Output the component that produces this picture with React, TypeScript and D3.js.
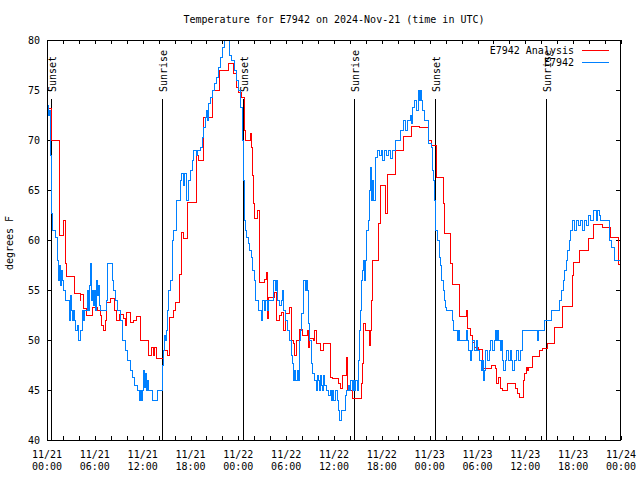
import React from "react";
import * as d3 from "d3";

// hours since 2024-11-21 00:00 UTC, temperature in °F
const obsSeries: [number, number][] = [[0,73.5],[0.13,72.5],[0.25,73],[0.38,68.5],[0.44,64],[0.5,62.7],[0.63,61],[1.0,60.3],[1.25,58],[1.38,56],[1.5,57.5],[1.63,55.5],[1.75,57],[1.88,56],[2.0,55],[2.26,54],[2.63,54],[2.76,52],[2.89,54.5],[3.0,53],[3.14,52],[3.26,53],[3.39,52],[3.51,51],[3.76,51.5],[3.89,50],[4.14,51],[4.39,53],[4.52,52],[4.64,53],[4.89,53],[5.02,55],[5.14,53],[5.27,55.5],[5.4,57.7],[5.52,54],[5.65,55],[5.77,53.5],[5.9,55],[6.02,53],[6.15,56],[6.27,54.5],[6.4,55.5],[6.52,53.5],[6.65,53],[7.4,54],[7.53,57.7],[8.16,56],[8.28,55],[8.53,54],[8.78,53],[9.16,52],[9.41,50],[9.79,49],[10.04,48],[10.41,47],[10.66,46.3],[10.92,45.5],[11.29,45],[11.54,44],[11.67,45],[11.8,44],[11.92,45],[12.05,47],[12.17,45.3],[12.3,46.7],[12.42,45],[12.55,46],[12.67,45],[13.05,45],[13.17,44],[13.8,45],[14.43,47.5],[14.55,49],[14.68,50.5],[14.8,50],[14.93,51],[15.06,53],[15.18,55],[15.43,56],[15.68,60],[15.8,61],[16.2,64],[16.7,66],[16.8,66.7],[17.06,65.5],[17.2,66.7],[17.44,64],[17.7,66],[17.94,67],[18.2,68],[18.3,69],[18.7,68.5],[18.8,69],[19.2,69.3],[19.45,70.3],[19.57,71.3],[19.8,72.3],[19.95,73],[20.07,72],[20.2,73.7],[20.45,74.3],[20.7,75],[20.95,75.7],[21.2,76.3],[21.45,77.3],[21.7,78.3],[21.96,79.3],[22.2,81],[22.7,80],[22.84,78.5],[23.09,78],[23.46,77],[23.7,76],[23.96,75],[24.2,73.3],[24.47,70],[24.6,66],[24.72,62],[24.84,61],[24.97,60.3],[25.2,59.7],[25.35,59],[25.6,58.3],[25.72,57],[25.97,56],[26.1,54],[26.35,54],[26.47,53],[26.72,53],[26.85,52],[26.98,54],[27.2,53],[27.35,54],[27.6,53],[27.72,54],[28.23,54],[28.35,56],[28.6,55],[28.73,56],[28.86,54],[29.1,53.5],[29.36,54],[29.49,55],[29.6,53],[29.86,52],[30.1,51],[30.36,50],[30.6,48.5],[30.74,47.7],[30.87,46],[31.0,47],[31.1,46],[31.37,47],[31.5,46],[31.6,50],[31.74,51],[31.87,52.7],[32.12,56],[32.37,55],[32.5,56],[32.62,55],[32.75,51.7],[32.87,50],[33.12,47.7],[33.25,46.7],[33.5,46],[33.75,45],[33.88,46.5],[34.0,46],[34.13,45],[34.25,46.5],[34.38,45.5],[34.5,45],[34.63,46.5],[34.75,45.5],[35.0,45],[35.26,44.5],[35.5,45],[35.63,44],[35.76,45],[35.88,44],[36.13,45],[36.39,44],[36.5,43],[36.64,42],[36.9,43],[37.4,44.5],[37.52,45],[37.77,45.5],[37.9,45],[38.0,46],[38.27,45],[38.4,46],[38.52,45],[38.65,46],[38.9,45],[39.02,48],[39.15,51],[39.27,53],[39.4,56],[39.52,57],[39.65,58],[39.78,56],[39.9,58],[40.03,61],[40.28,62],[40.4,65],[40.53,67.3],[40.65,64],[40.78,66],[40.9,64],[41.15,68.3],[41.4,69],[41.66,68.5],[41.9,69],[42.03,68],[42.28,69],[42.53,68.5],[42.78,69],[43.04,68.2],[43.29,69],[43.66,70],[44.29,71],[44.67,72],[44.92,71],[45.17,72],[45.55,72.5],[45.67,71.7],[45.8,73.3],[46.05,74],[46.3,73],[46.55,75],[46.68,74],[46.8,75],[46.93,74],[47.05,73],[47.3,72],[47.8,69.7],[48.18,69.3],[48.3,67],[48.43,66],[48.56,64],[48.68,61],[48.93,60],[49.18,58.3],[49.31,57.5],[49.44,56],[49.69,55],[49.81,54],[49.94,53.3],[50.06,53],[50.82,52],[50.94,51],[51.44,50],[51.57,51],[51.69,50],[52.45,50],[52.57,51],[52.7,50],[52.82,49],[53.07,48],[53.2,49],[53.32,50],[53.58,49],[53.83,50],[53.95,49],[54.2,48],[54.45,47],[54.58,48],[54.7,46],[54.83,47],[54.96,49],[55.2,48],[55.46,49],[55.58,50],[55.83,49],[56.09,50],[56.2,51],[56.34,50],[56.46,51],[56.59,50],[56.84,49],[56.96,50],[57.09,48],[57.21,47],[57.46,48],[57.59,49],[57.84,48],[58.09,49],[58.22,48],[58.34,47],[58.6,48],[58.85,49],[59.1,48],[59.35,49],[59.6,51],[61.48,50],[61.6,51],[62.36,52],[63.24,53],[64.24,54],[64.49,55],[64.74,56],[64.87,57],[65.12,58],[65.24,59],[65.5,60],[65.62,61],[65.87,62],[66.12,61],[66.37,62],[66.62,61.5],[66.88,62],[67.13,61],[67.38,62],[67.63,61.5],[67.88,62.5],[68.13,62],[68.5,63],[68.88,62],[69.0,63],[69.26,62.5],[69.38,62],[70.5,60],[70.76,59.3],[71.14,58],[72,58]];

const analysisSeries: [number, number][] = [[0,73.2],[0.5,70],[1.5,60.5],[2.0,62],[2.26,57.7],[2.4,56.4],[3.4,54.7],[4.1,54],[4.2,54.6],[4.55,53.2],[4.9,52.5],[5.6,53.3],[6.3,53],[6.6,52.5],[6.8,51.5],[7.0,51],[7.3,52],[7.45,53.8],[7.95,54.2],[8.35,53],[8.7,52],[9.0,52.6],[9.5,52.2],[9.75,51.5],[9.95,52.8],[10.45,51.8],[10.8,52],[11.2,52.4],[11.65,50],[12.7,48.5],[13.0,49.3],[13.25,48.5],[13.4,49.3],[13.7,48.2],[14.5,49],[15.0,48.5],[15.35,52.3],[15.85,53],[16.1,53.8],[16.55,56.6],[16.8,60.8],[17.1,60.2],[17.6,63.8],[18.65,68.5],[19.0,68],[19.55,72.3],[20.75,75],[21.6,77],[22.75,77.7],[23.35,76.7],[23.75,75.3],[24.0,74.8],[24.3,74.3],[24.7,71],[24.8,70],[25.45,70.7],[25.55,69.3],[25.7,66.5],[25.85,63.7],[26.0,62.2],[26.35,63],[26.65,55.8],[27.2,56.1],[27.45,56.8],[27.6,54.3],[27.65,52.2],[27.75,54.3],[28.5,54.8],[28.7,52],[29.1,52.5],[29.3,52.8],[29.55,51],[29.85,52.7],[30.35,53.3],[30.55,50],[30.8,49.7],[30.95,48.5],[31.25,50],[31.55,51.1],[31.95,50.5],[32.6,51],[32.75,49.3],[32.9,50.2],[33.4,50],[33.5,51],[33.7,49.7],[34.0,49.7],[34.3,49],[34.6,49.7],[35.55,46.3],[35.75,46.2],[36.55,45.7],[36.8,45.2],[37.0,46.5],[37.45,48.3],[37.6,45],[38.3,44.2],[39.35,45.7],[39.5,47.7],[39.65,51.7],[39.85,51],[40.4,49.5],[40.5,51],[40.6,54],[40.75,58],[41.5,61.7],[41.8,65.5],[42.4,62.7],[42.7,66.6],[43.6,69],[44.6,70.4],[45.6,71.4],[46.6,71.3],[47.8,70],[48.2,69.5],[48.75,66.3],[49.7,63.7],[49.8,60.7],[50.6,57.7],[50.75,55.6],[51.65,52.4],[52.55,53],[52.65,51.2],[53.0,50.5],[53.25,49.8],[53.5,49.3],[54.0,49.1],[54.6,47.2],[55.7,47.5],[56.2,47.2],[56.35,45.7],[56.55,46.3],[56.8,45.2],[57.1,45],[57.7,45.7],[58.65,45.2],[58.95,44.7],[59.15,44.3],[59.65,46],[59.85,46.7],[60.05,47.3],[60.2,47],[60.35,47.3],[60.8,48.4],[61.7,49],[62.1,49.2],[62.7,49.7],[63.65,51.3],[64.65,53.4],[65.85,56.5],[66.0,57.8],[66.7,59],[67.85,60.2],[68.55,61.6],[69.6,61.3],[70.6,60.3],[71.6,57.6],[72,57.6]];

const sunLabels = ["Sunset", "Sunrise", "Sunset", "Sunrise", "Sunset", "Sunrise"];
const sunHours = [0.5, 14.47, 24.62, 38.52, 48.72, 62.65];

const yTicks = [40, 45, 50, 55, 60, 65, 70, 75, 80];
const seriesNames = ["E7942 Analysis", "E7942"];
const seriesColors = ["#ff0000", "#0080ff"];

const title = "Temperature for E7942 on 2024-Nov-21 (time in UTC)";
const yTitle = "degrees F";

const START = Date.UTC(2024, 10, 21);
const toDate = (h: number) => new Date(START + h * 3600e3);

export default function App() {
  const W = 640, H = 480;
  const left = 47, right = 621, top = 40, bottom = 440;
  const x = d3.scaleUtc().domain([toDate(0), toDate(72)]).range([left, right]);
  const y = d3.scaleLinear().domain([40, 80]).range([bottom, top]);
  const font = "'DejaVu Sans Mono', 'Liberation Mono', monospace";

  const line = d3
    .line<[number, number]>()
    .x((d) => Math.round(x(toDate(d[0]))) + 0.5)
    .y((d) => Math.round(y(d[1])) + 0.5)
    .curve(d3.curveStepAfter);

  const minorTicks = d3.utcHour.every(2)!.range(toDate(0), toDate(72.01));
  const majorTicks = d3.utcHour.every(6)!.range(toDate(0), toDate(72.01));
  const fmtDate = d3.utcFormat("%m/%d");
  const fmtTime = d3.utcFormat("%H:%M");

  return (
    <svg
      width={W}
      height={H}
      style={{ position: "absolute", left: 0, top: 0, background: "#fff" }}
      fontFamily={font}
      fontSize={10}
    >
      <defs>
        <clipPath id="plotclip">
          <rect x={left} y={top} width={right - left} height={bottom - top} />
        </clipPath>
      </defs>
      <rect x={0} y={0} width={W} height={H} fill="#fff" />
      <text x={(left + right) / 2} y={23} textAnchor="middle" fill="#000">
        {title}
      </text>

      {minorTicks.map((t, i) => (
        <g key={"xt" + i} stroke="#000" strokeWidth={1} shapeRendering="crispEdges">
          <line x1={Math.round(x(t)) + 0.5} x2={Math.round(x(t)) + 0.5} y1={bottom} y2={bottom - 4} />
          <line x1={Math.round(x(t)) + 0.5} x2={Math.round(x(t)) + 0.5} y1={top} y2={top + 4} />
        </g>
      ))}
      {majorTicks.map((t, i) => (
        <g key={"xl" + i} fill="#000">
          <text x={x(t)} y={458} textAnchor="middle">{fmtDate(t)}</text>
          <text x={x(t)} y={470} textAnchor="middle">{fmtTime(t)}</text>
        </g>
      ))}
      {yTicks.map((v) => (
        <g key={"yt" + v} shapeRendering="crispEdges">
          <line x1={left} x2={left + 5} y1={Math.round(y(v)) + 0.5} y2={Math.round(y(v)) + 0.5} stroke="#000" />
          <line x1={right} x2={right - 5} y1={Math.round(y(v)) + 0.5} y2={Math.round(y(v)) + 0.5} stroke="#000" />
          <text x={40} y={y(v)} dy="0.35em" textAnchor="end" fill="#000">{v}</text>
        </g>
      ))}
      <text transform={`translate(13,243) rotate(-90)`} textAnchor="middle" fill="#000">
        {yTitle}
      </text>

      {sunHours.map((h, i) => {
        const sx = Math.round(x(toDate(h))) + 0.5;
        return (
          <g key={"sun" + i}>
            <line x1={sx} x2={sx} y1={99} y2={bottom} stroke="#000" strokeWidth={1} shapeRendering="crispEdges" />
            <text transform={`translate(${sx + 4},92) rotate(-90)`} textAnchor="start" fill="#000">
              {sunLabels[i]}
            </text>
          </g>
        );
      })}

      <g clipPath="url(#plotclip)" fill="none" strokeWidth={1} shapeRendering="crispEdges">
        <path d={line(analysisSeries) || ""} stroke={seriesColors[0]} />
        <path d={line(obsSeries) || ""} stroke={seriesColors[1]} />
      </g>

      {seriesNames.map((n, i) => (
        <g key={"lg" + i}>
          <text x={574} y={50 + i * 12} dy="0.35em" textAnchor="end" fill="#000">{n}</text>
          <line x1={582} x2={609} y1={50.5 + i * 12} y2={50.5 + i * 12} stroke={seriesColors[i]} strokeWidth={1} shapeRendering="crispEdges" />
        </g>
      ))}

      <rect x={left + 0.5} y={top + 0.5} width={right - left - 1} height={bottom - top} fill="none" stroke="#000" strokeWidth={1} shapeRendering="crispEdges" />
    </svg>
  );
}
